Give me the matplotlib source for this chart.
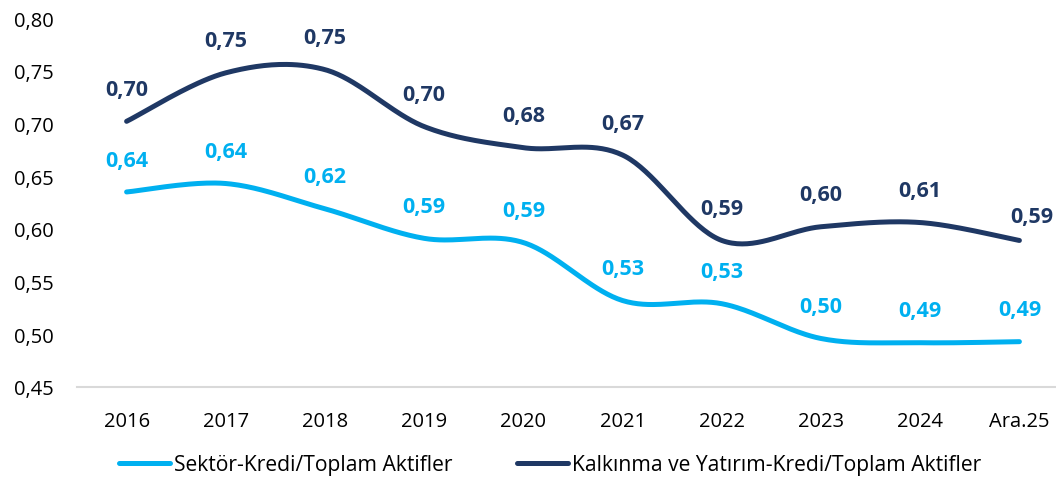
import numpy as np
import matplotlib
matplotlib.use("Agg")
import matplotlib.pyplot as plt
from matplotlib.lines import Line2D

categories = ["2016", "2017", "2018", "2019", "2020", "2021", "2022", "2023", "2024", "Ara.25"]
sektor = [0.635, 0.643, 0.619, 0.591, 0.587, 0.532, 0.529, 0.496, 0.492, 0.493]
kalkinma = [0.702, 0.748, 0.751, 0.697, 0.677, 0.670, 0.589, 0.602, 0.606, 0.589]
sektor_labels = ["0,64", "0,64", "0,62", "0,59", "0,59", "0,53", "0,53", "0,50", "0,49", "0,49"]
kalkinma_labels = ["0,70", "0,75", "0,75", "0,70", "0,68", "0,67", "0,59", "0,60", "0,61", "0,59"]
yticks = [0.45, 0.50, 0.55, 0.60, 0.65, 0.70, 0.75, 0.80]

C_LIGHT = "#00B0F0"
C_DARK = "#1F3864"

plt.rcParams['font.family'] = ['Open Sans', 'DejaVu Sans']


def smooth(xs, ys, n=40):
    """Catmull-Rom style Bezier smoothing (like Excel smoothed lines)."""
    P = np.column_stack([xs, ys]).astype(float)
    m = len(P)
    out = []
    for i in range(m - 1):
        p0 = P[i - 1] if i > 0 else P[i]
        p1 = P[i]
        p2 = P[i + 1]
        p3 = P[i + 2] if i + 2 < m else P[i + 1]
        c1 = p1 + (p2 - p0) / 6.0
        c2 = p2 - (p3 - p1) / 6.0
        t = np.linspace(0, 1, n)[:, None]
        seg = ((1 - t) ** 3) * p1 + 3 * ((1 - t) ** 2) * t * c1 + 3 * (1 - t) * t ** 2 * c2 + t ** 3 * p2
        out.append(seg if i == 0 else seg[1:])
    s = np.vstack(out)
    return s[:, 0], s[:, 1]


W, H = 1056, 485
fig = plt.figure(figsize=(W / 100, H / 100), dpi=100)
ax = fig.add_axes([77 / W, (H - 388) / H, 992 / W, (388 - 19) / H])

x = np.arange(len(categories))
sx, sy = smooth(x, sektor)
kx, ky = smooth(x, kalkinma)
ax.plot(sx, sy, color=C_LIGHT, lw=3.6, solid_capstyle='round', clip_on=False)
ax.plot(kx, ky, color=C_DARK, lw=3.6, solid_capstyle='round', clip_on=False)

for i in range(len(categories)):
    ax.annotate(sektor_labels[i], (x[i], sektor[i]), xytext=(0, 23), textcoords='offset points',
                ha='center', va='center', color=C_LIGHT, fontsize=15.5, fontweight='bold')
    if i == len(categories) - 1:
        off = (9, 17)
    else:
        off = (0, 23)
    ax.annotate(kalkinma_labels[i], (x[i], kalkinma[i]), xytext=off, textcoords='offset points',
                ha='center', va='center', color=C_DARK, fontsize=15.5, fontweight='bold')

ax.set_xlim(-0.5, len(categories) - 0.5)
ax.set_ylim(0.45, 0.80)
ax.set_yticks(yticks)
ax.set_yticklabels([f"{v:.2f}".replace(".", ",") for v in yticks])
ax.set_xticks(x)
ax.set_xticklabels(categories)
ax.tick_params(axis='both', length=0, labelsize=14.5, colors='black')
ax.tick_params(axis='y', pad=17)
ax.tick_params(axis='x', pad=17)
for s in ['top', 'right', 'left']:
    ax.spines[s].set_visible(False)
ax.spines['bottom'].set_color('#D9D9D9')
ax.spines['bottom'].set_linewidth(1.5)

handles = [Line2D([], [], color=C_LIGHT, lw=3.6, solid_capstyle='round'),
           Line2D([], [], color=C_DARK, lw=3.6, solid_capstyle='round')]
fig.legend(handles, ["Sektör-Kredi/Toplam Aktifler", "Kalkınma ve Yatırım-Kredi/Toplam Aktifler"],
           loc='center left', bbox_to_anchor=(118.5 / W, (H - 466) / H), ncol=2, frameon=False,
           fontsize=15.2, handlelength=2.42, handletextpad=0.2, columnspacing=3.05, borderpad=0,
           borderaxespad=0)

fig.savefig("out.png", dpi=100)
